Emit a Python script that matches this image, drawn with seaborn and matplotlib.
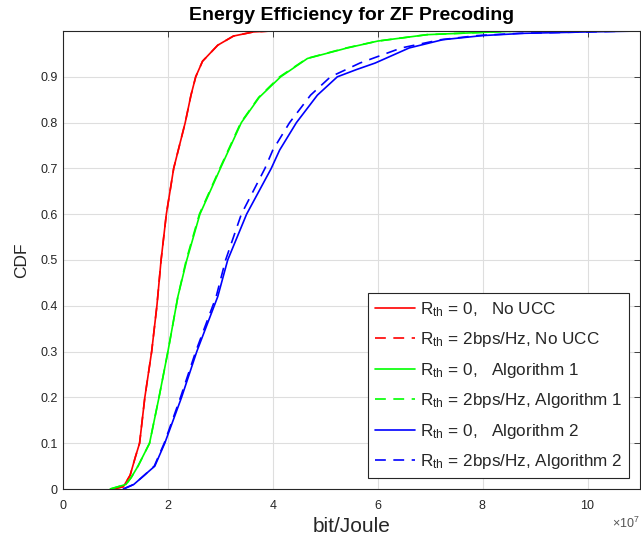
import numpy as np
import pandas as pd
import matplotlib
matplotlib.use("Agg")
import matplotlib.pyplot as plt
from matplotlib.ticker import ScalarFormatter, FixedLocator, FuncFormatter
import seaborn as sns

# ---------------- data (x in units of 1e7 bit/Joule, y = CDF) ----------------
SCALE = 1e7

RED_X = [0.95, 1.15, 1.28, 1.38, 1.46, 1.56, 1.69, 1.79, 1.87, 1.97, 2.11, 2.33, 2.44, 2.53, 2.66, 2.95, 3.25, 3.63, 3.97]
RED_Y = [0.0, 0.005, 0.03, 0.07, 0.1, 0.2, 0.3, 0.4, 0.5, 0.6, 0.7, 0.8, 0.86, 0.9, 0.934, 0.969, 0.989, 0.998, 1.0]
RED2_X = [0.95, 1.15, 1.28, 1.38, 1.46, 1.56, 1.69, 1.79, 1.87, 1.97, 2.11, 2.33, 2.44, 2.53, 2.66, 2.95, 3.25, 3.63, 3.97]
RED2_Y = [0.0, 0.005, 0.03, 0.07, 0.1, 0.2, 0.3, 0.4, 0.5, 0.6, 0.7, 0.8, 0.86, 0.9, 0.934, 0.969, 0.989, 0.998, 1.0]

GREEN_X = [0.9, 1.2, 1.3, 1.43, 1.65, 1.83, 2.0, 2.19, 2.36, 2.61, 3.0, 3.4, 3.74, 4.15, 4.66, 5.42, 6.0, 6.94, 8.0, 8.7]
GREEN_Y = [0.0, 0.01, 0.025, 0.05, 0.1, 0.2, 0.3, 0.42, 0.5, 0.6, 0.7, 0.8, 0.855, 0.9, 0.94, 0.963, 0.978, 0.992, 0.997, 1.0]
GREEN2_X = [0.9, 1.2, 1.3, 1.43, 1.65, 1.83, 2.0, 2.19, 2.35, 2.6, 2.99, 3.39, 3.73, 4.13, 4.65, 5.4, 6.0, 6.94, 8.0, 8.7]
GREEN2_Y = [0.0, 0.01, 0.025, 0.05, 0.1, 0.2, 0.3, 0.42, 0.5, 0.6, 0.7, 0.8, 0.855, 0.9, 0.94, 0.963, 0.978, 0.992, 0.997, 1.0]

BLUE_X = [1.15, 1.35, 1.55, 1.75, 1.94, 2.26, 2.55, 2.95, 3.14, 3.5, 3.97, 4.13, 4.45, 4.85, 5.23, 5.6, 5.95, 6.6, 7.24, 8.0, 8.8, 10.0, 11.0]
BLUE_Y = [0.0, 0.01, 0.03, 0.05, 0.1, 0.2, 0.3, 0.42, 0.5, 0.6, 0.7, 0.74, 0.8, 0.86, 0.9, 0.916, 0.93, 0.963, 0.981, 0.99, 0.995, 0.998, 1.0]
BLUE2_X = [1.15, 1.35, 1.55, 1.74, 1.93, 2.24, 2.53, 2.92, 3.1, 3.4, 3.85, 4.0, 4.32, 4.72, 5.1, 5.4, 5.66, 6.45, 7.2, 7.9, 8.7, 10.0, 10.8]
BLUE2_Y = [0.0, 0.01, 0.03, 0.05, 0.1, 0.2, 0.3, 0.42, 0.5, 0.6, 0.7, 0.74, 0.8, 0.86, 0.9, 0.916, 0.93, 0.963, 0.981, 0.99, 0.995, 0.998, 1.0]

LABELS = [
    r"R$_{th}$ = 0,   No UCC",
    r"R$_{th}$ = 2bps/Hz, No UCC",
    r"R$_{th}$ = 0,   Algorithm 1",
    r"R$_{th}$ = 2bps/Hz, Algorithm 1",
    r"R$_{th}$ = 0,   Algorithm 2",
    r"R$_{th}$ = 2bps/Hz, Algorithm 2",
]
X_TICKS = [0, 2, 4, 6, 8, 10]
Y_TICKS = [0, 0.1, 0.2, 0.3, 0.4, 0.5, 0.6, 0.7, 0.8, 0.9]

TITLE = "Energy Efficiency for ZF Precoding"
XLABEL = "bit/Joule"
YLABEL = "CDF"

# ---------------- style ----------------
sns.set_style("white")
plt.rcParams["font.family"] = ["Liberation Sans", "DejaVu Sans"]
plt.rcParams["mathtext.default"] = "regular"
plt.rcParams["axes.unicode_minus"] = False

series = [
    (RED_X, RED_Y, "#ff0000", "-"),
    (RED2_X, RED2_Y, "#ff0000", "--"),
    (GREEN_X, GREEN_Y, "#00ff00", "-"),
    (GREEN2_X, GREEN2_Y, "#00ff00", "--"),
    (BLUE_X, BLUE_Y, "#0000ff", "-"),
    (BLUE2_X, BLUE2_Y, "#0000ff", "--"),
]

fig = plt.figure(figsize=(6.41, 5.39), dpi=100)
ax = fig.add_axes([63 / 641, 1 - 489 / 539, 577 / 641, 458 / 539])

for (xs, ys, col, ls), lab in zip(series, LABELS):
    df = pd.DataFrame({"x": np.asarray(xs) * SCALE, "y": ys})
    sns.lineplot(data=df, x="x", y="y", ax=ax, color=col, linewidth=1.2,
                 sort=False, estimator=None, label=lab)
    line = ax.lines[-1]
    if ls == "--":
        line.set_dashes((6.5, 4.5))

ax.set_xlim(0, 11 * SCALE)
ax.set_ylim(0, 1)
ax.xaxis.set_major_locator(FixedLocator([t * SCALE for t in X_TICKS]))
ax.yaxis.set_major_locator(FixedLocator(Y_TICKS))
fmt = ScalarFormatter(useMathText=True)
fmt.set_powerlimits((7, 7))
ax.xaxis.set_major_formatter(fmt)
ax.yaxis.set_major_formatter(FuncFormatter(lambda v, p: f"{v:g}"))

ax.grid(True, color="#dedede", linewidth=0.8)
ax.set_axisbelow(True)
for s in ax.spines.values():
    s.set_color("#262626")
    s.set_linewidth(0.8)
ax.tick_params(direction="in", length=4, width=0.6, colors="#262626",
               labelsize=9, top=True, right=True)
ax.tick_params(axis="x", pad=7)
ax.tick_params(axis="y", pad=4)
ax.xaxis.get_offset_text().set_fontsize(9)
ax.xaxis.get_offset_text().set_color("#555555")

ax.set_title(TITLE, fontsize=14, fontweight="bold", pad=8, color="black")
ax.set_xlabel(XLABEL, fontsize=15, color="#262626", labelpad=4)
ax.set_ylabel(YLABEL, fontsize=12.5, color="#262626", labelpad=8)

leg = ax.legend(loc="lower right", bbox_to_anchor=(0.981, 0.024), borderaxespad=0,
                fontsize=12.3, frameon=True, fancybox=False, framealpha=1,
                edgecolor="#262626", handlelength=2.3, handletextpad=0.3,
                labelspacing=0.67, borderpad=0.4)
leg.get_frame().set_linewidth(0.8)

fig.savefig("out.png", dpi=100)
